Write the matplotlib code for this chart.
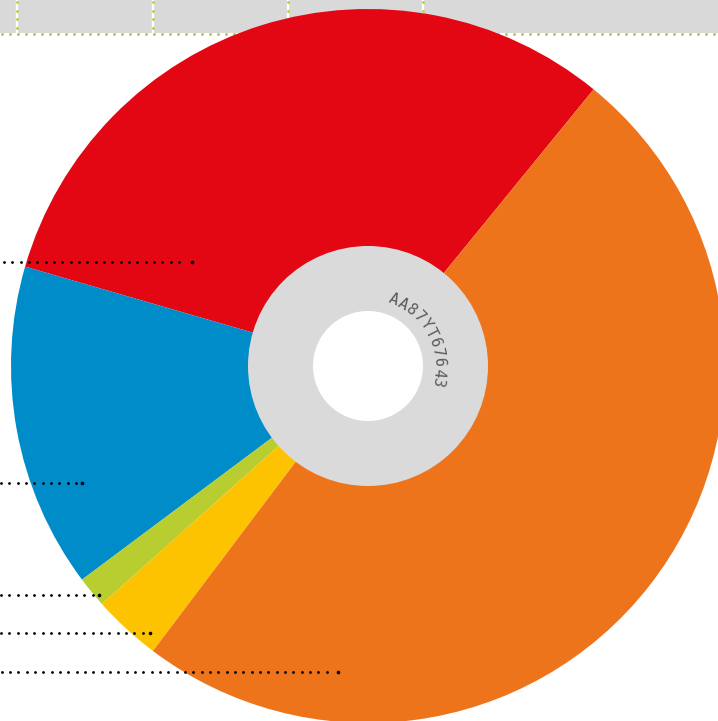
import numpy as np
import matplotlib
matplotlib.use("Agg")
import matplotlib.pyplot as plt
from matplotlib.patches import Circle, Rectangle

# ---- data ----
categories = ["Red", "Blue", "Green", "Yellow", "Orange"]
values = [31.4, 14.7, 1.4, 3.1, 49.4]
colors = ["#e30613", "#008bc9", "#b8cd2f", "#fdc300", "#ee741c"]
center_label = "AA87YT67643"

W, H = 718, 721
fig = plt.figure(figsize=(W / 100, H / 100), dpi=100)
ax = fig.add_axes([0, 0, 1, 1])

def Y(y):
    return H - y

# top band
ax.add_patch(Rectangle((0, Y(33)), W, 33, facecolor="#d9d9d9", edgecolor="none", zorder=0))
for sx in [17, 153, 288, 423]:
    ax.plot([sx, sx], [Y(0), Y(33)], color="white", lw=1.6, zorder=0.5)
    ys = np.arange(2, 33, 8.5)
    ax.plot(np.full_like(ys, sx), Y(ys), "o", color="#b8cd2f", ms=2.0, mew=0, zorder=0.6)
bx = np.arange(2, W, 8.0)
ax.plot(bx, np.full_like(bx, Y(34)), "o", color="#b8cd2f", ms=2.1, mew=0, zorder=0.6)

cx, cy = 368, Y(366)
ax.pie(values, colors=colors, startangle=50.8, counterclock=True,
       center=(cx, cy), radius=357, frame=True,
       wedgeprops=dict(linewidth=0, zorder=1))

ax.add_patch(Circle((cx, cy), 120, facecolor="#dadada", edgecolor="none", zorder=3))
ax.add_patch(Circle((cx, cy), 55, facecolor="white", edgecolor="none", zorder=4))

# curved label
angs = np.linspace(68.5, -13.5, len(center_label))
for ch, a in zip(center_label, angs):
    r = 71
    x = cx + r * np.cos(np.radians(a))
    y = cy + r * np.sin(np.radians(a))
    ax.text(x, y, ch, rotation=a - 90, ha="center", va="center",
            fontsize=11, color="#5a5a5a", family="DejaVu Sans Mono",
            zorder=5, rotation_mode="anchor")

# leader lines (dotted)
leaders = [(4, 192, 261.5), (1, 82, 483), (1, 99, 595), (1, 150, 633), (1.7, 338, 672)]
for x0, xe, yy in leaders:
    xs = np.arange(x0, xe - 5, 8.33)
    ax.plot(xs, np.full_like(xs, Y(yy)), "o", color="black", ms=2.0, mew=0, zorder=6)
    ax.plot([xe], [Y(yy)], "o", color="black", ms=2.6, mew=0, zorder=6)

ax.set_xlim(0, W)
ax.set_ylim(0, H)
ax.set_aspect("equal")
ax.axis("off")
fig.savefig("out.png", dpi=100)
